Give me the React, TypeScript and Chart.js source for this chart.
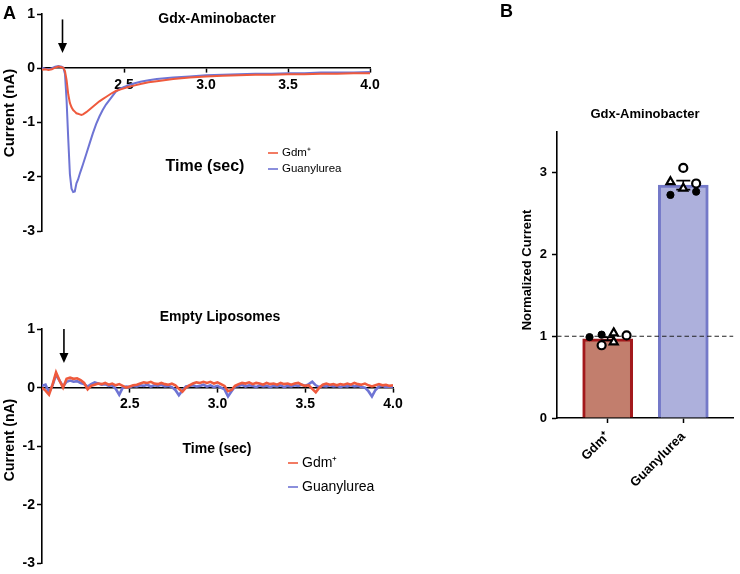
import React, { useEffect, useRef } from "react";
import { Chart, registerables } from "chart.js";

Chart.register(...registerables);

const FONT = "'Liberation Sans', Arial, Helvetica, sans-serif";
Chart.defaults.font.family = FONT;
Chart.defaults.color = "#000";

// ---------- Panel A, top: Gdx-Aminobacter ----------
const TIME_TOP = [
  2.0, 2.02, 2.04, 2.06, 2.08, 2.1, 2.12, 2.13, 2.14, 2.15,
  2.16, 2.17, 2.18, 2.19, 2.2, 2.21, 2.22, 2.23, 2.24, 2.25,
  2.27, 2.29, 2.31, 2.33, 2.35, 2.37, 2.39, 2.42, 2.45, 2.48,
  2.52, 2.56, 2.6, 2.65, 2.7, 2.8, 2.9, 3.0, 3.1, 3.2,
  3.3, 3.4, 3.5, 3.6, 3.7, 3.8, 3.9, 4.0,
];
const GDM_TOP = [
  -0.03, -0.02, -0.03, -0.02, 0.01, 0.03, 0.02, 0.01, -0.05, -0.22,
  -0.48, -0.64, -0.72, -0.77, -0.8, -0.83, -0.84, -0.85, -0.86, -0.85,
  -0.81, -0.76, -0.71, -0.66, -0.61, -0.57, -0.53, -0.47, -0.42, -0.39,
  -0.35, -0.32, -0.29, -0.26, -0.24, -0.2, -0.17, -0.15, -0.14, -0.13,
  -0.12, -0.12, -0.11, -0.11, -0.1, -0.1, -0.09, -0.09,
];
const GUAN_TOP = [
  0.01, -0.01, -0.02, 0.0, 0.03, 0.04, 0.03, 0.01, -0.1, -0.6,
  -1.3, -1.95, -2.22, -2.28, -2.27, -2.12, -2.05, -1.95, -1.86, -1.77,
  -1.58, -1.39, -1.2, -1.03, -0.89, -0.77, -0.67, -0.55, -0.43, -0.37,
  -0.32, -0.28, -0.25, -0.22, -0.2, -0.17, -0.15, -0.13, -0.12, -0.11,
  -0.1, -0.1, -0.09, -0.09, -0.08, -0.08, -0.08, -0.07,
];

// ---------- Panel A, bottom: Empty Liposomes ----------
const TIME_BOTTOM = [
  2.0, 2.02, 2.04, 2.06, 2.08, 2.1, 2.12, 2.14, 2.16, 2.18,
  2.2, 2.22, 2.24, 2.26, 2.28, 2.3, 2.32, 2.34, 2.36, 2.38,
  2.4, 2.42, 2.44, 2.46, 2.48, 2.5, 2.52, 2.54, 2.56, 2.58,
  2.6, 2.62, 2.64, 2.66, 2.68, 2.7, 2.72, 2.74, 2.76, 2.78,
  2.8, 2.82, 2.84, 2.86, 2.88, 2.9, 2.92, 2.94, 2.96, 2.98,
  3.0, 3.02, 3.04, 3.06, 3.08, 3.1, 3.12, 3.14, 3.16, 3.18,
  3.2, 3.22, 3.24, 3.26, 3.28, 3.3, 3.32, 3.34, 3.36, 3.38,
  3.4, 3.42, 3.44, 3.46, 3.48, 3.5, 3.52, 3.54, 3.56, 3.58,
  3.6, 3.62, 3.64, 3.66, 3.68, 3.7, 3.72, 3.74, 3.76, 3.78,
  3.8, 3.82, 3.84, 3.86, 3.88, 3.9, 3.92, 3.94, 3.96, 3.98,
  4.0,
];
const GDM_BOTTOM = [
  0.0, -0.05, -0.12, 0.05, 0.26, 0.12, 0.0, 0.15, 0.17, 0.15,
  0.16, 0.13, 0.08, -0.03, 0.03, 0.05, 0.07, 0.06, 0.08, 0.05,
  0.07, 0.04, 0.06, 0.03, 0.0, 0.02, 0.04, 0.05, 0.07, 0.09,
  0.08, 0.1, 0.07, 0.06, 0.08, 0.06, 0.05, 0.07, 0.04, -0.02,
  -0.07, 0.0, 0.04, 0.07, 0.09, 0.08, 0.1, 0.08, 0.1, 0.07,
  0.09, 0.06, 0.03, -0.06, -0.04, 0.03, 0.06, 0.08, 0.07, 0.09,
  0.06, 0.08, 0.07, 0.05, 0.08, 0.06, 0.07, 0.05, 0.08, 0.06,
  0.07, 0.05, 0.07, 0.08, 0.05, 0.03, 0.04, -0.02, -0.08, 0.0,
  0.05, 0.07, 0.05, 0.06, 0.04, 0.06, 0.05, 0.07, 0.05, 0.08,
  0.06, 0.05, 0.07, 0.04, 0.02, 0.04, 0.06, 0.04, 0.05, 0.03,
  0.04,
];
const GUAN_BOTTOM = [
  0.03, 0.05, -0.08, 0.04, 0.22, 0.12, 0.02, 0.1, 0.12, 0.1,
  0.11, 0.08, 0.06, 0.02, 0.06, 0.09, 0.07, 0.05, 0.06, 0.03,
  0.04, -0.02, -0.12, 0.0, 0.02, 0.01, 0.03, 0.02, 0.04, 0.03,
  0.05, 0.02, 0.04, 0.03, 0.05, 0.02, 0.03, 0.01, -0.04, -0.13,
  -0.05, 0.02, 0.03, 0.04, 0.02, 0.03, 0.05, 0.02, 0.04, 0.01,
  0.03, 0.0, -0.03, -0.15, -0.06, 0.02, 0.03, 0.05, 0.02, 0.04,
  0.03, 0.01, 0.04, 0.02, 0.03, 0.01, 0.03, 0.02, 0.04, 0.01,
  0.03, 0.02, 0.04, 0.03, 0.05, 0.03, 0.06, 0.1, 0.04, 0.01,
  0.03, 0.02, 0.04, 0.02, 0.03, 0.01, 0.03, 0.02, 0.04, 0.02,
  0.03, 0.01, 0.0, -0.06, -0.15, -0.04, 0.02, 0.03, 0.01, 0.02,
  0.01,
];

const TIME_TICKS = [2.5, 3.0, 3.5, 4.0];
const CURRENT_TICKS = [-3, -2, -1, 0, 1];
const SERIES_LABELS = ["Gdm\u207A", "Guanylurea"];
const ARROW_TIME = 2.125;

// ---------- Panel B ----------
const CATEGORIES = ["Gdm\u207A", "Guanylurea"];
const BAR_MEANS = [0.97, 2.85];
const BAR_SEM = [0.02, 0.055];
const GDM_REPLICATES = [0.99, 1.02, 0.89, 1.01, 1.04, 0.93];
const GUAN_REPLICATES = [2.73, 2.77, 3.06, 2.87, 2.89, 2.81];
const REPLICATE_MARKERS = ["filled", "filled", "hollow", "hollow", "triangle", "triangle"];
const NORMALIZED_TICKS = [0, 1, 2, 3];
const REFERENCE_LEVEL = 1;

// layout-only constants (jitter of replicate dots, in category units)
const GDM_JITTER = [-0.24, -0.08, -0.08, 0.25, 0.08, 0.08];
const GUAN_JITTER = [-0.17, 0.17, 0, 0.17, -0.17, 0];

const RED = "#ef5a3d";
const BLUE = "#6e74d4";

function font(size: number, bold = true) {
  return `${bold ? "bold " : ""}${size}px ${FONT}`;
}

function text(
  ctx: CanvasRenderingContext2D,
  s: string,
  x: number,
  y: number,
  size: number,
  bold = true,
  align: CanvasTextAlign = "center",
  rotate = false
) {
  ctx.save();
  ctx.font = font(size, bold);
  ctx.fillStyle = "#000";
  ctx.textAlign = align;
  ctx.textBaseline = "middle";
  ctx.translate(x, y);
  if (rotate) ctx.rotate(-Math.PI / 2);
  ctx.fillText(s, 0, 0);
  ctx.restore();
}

function drawArrow(chart: any, time: number, fromV: number, toV: number) {
  const ctx = chart.ctx as CanvasRenderingContext2D;
  const x = chart.scales.x.getPixelForValue(time);
  const y1 = chart.scales.y.getPixelForValue(fromV);
  const y2 = chart.scales.y.getPixelForValue(toV);
  ctx.save();
  ctx.strokeStyle = "#000";
  ctx.fillStyle = "#000";
  ctx.lineWidth = 1.6;
  ctx.beginPath();
  ctx.moveTo(x, y1);
  ctx.lineTo(x, y2 - 8);
  ctx.stroke();
  ctx.beginPath();
  ctx.moveTo(x - 4.5, y2 - 10);
  ctx.lineTo(x + 4.5, y2 - 10);
  ctx.lineTo(x, y2);
  ctx.closePath();
  ctx.fill();
  ctx.restore();
}

function drawLegend(chart: any, x: number, y0: number, dy: number, size: number) {
  const ctx = chart.ctx as CanvasRenderingContext2D;
  chart.data.datasets.forEach((ds: any, i: number) => {
    const y = y0 + i * dy;
    ctx.save();
    ctx.strokeStyle = ds.borderColor;
    ctx.lineWidth = 1.6;
    ctx.beginPath();
    ctx.moveTo(x, y);
    ctx.lineTo(x + 10, y);
    ctx.stroke();
    ctx.restore();
    text(ctx, ds.label, x + 14, y, size, false, "left");
  });
}

type TraceLayout = {
  pad: { top: number; right: number; bottom: number };
  lineWidth: number;
  overlay: (chart: any) => void;
};

function traceConfig(time: number[], gdm: number[], guan: number[], lay: TraceLayout): any {
  const axisFont = { family: FONT, size: 14, weight: "bold" as const };
  const grid = {
    display: true,
    drawOnChartArea: false,
    drawTicks: true,
    tickLength: 4,
    color: "#000",
    tickWidth: 1.5,
  };
  const border = { display: true, color: "#000", width: 1.6 };
  return {
    type: "line",
    data: {
      datasets: [
        {
          label: SERIES_LABELS[0],
          data: time.map((t, i) => ({ x: t, y: gdm[i] })),
          borderColor: RED,
          borderWidth: lay.lineWidth,
          pointRadius: 0,
          tension: 0,
          fill: false,
        },
        {
          label: SERIES_LABELS[1],
          data: time.map((t, i) => ({ x: t, y: guan[i] })),
          borderColor: BLUE,
          borderWidth: lay.lineWidth,
          pointRadius: 0,
          tension: 0,
          fill: false,
        },
      ],
    },
    options: {
      responsive: false,
      animation: false,
      layout: { padding: { left: 0, top: lay.pad.top, right: lay.pad.right, bottom: lay.pad.bottom } },
      plugins: { legend: { display: false }, tooltip: { enabled: false }, title: { display: false } },
      scales: {
        x: {
          type: "linear",
          min: 2,
          max: 4,
          position: { y: 0 },
          afterBuildTicks: (s: any) => {
            s.ticks = TIME_TICKS.map((v) => ({ value: v }));
          },
          ticks: {
            font: axisFont,
            color: "#000",
            padding: 4,
            maxRotation: 0,
            autoSkip: false,
            callback: (v: any) => Number(v).toFixed(1),
          },
          grid,
          border,
        },
        y: {
          type: "linear",
          min: -3,
          max: 1,
          position: "left",
          afterFit: (s: any) => {
            s.width = 42;
          },
          afterBuildTicks: (s: any) => {
            s.ticks = CURRENT_TICKS.map((v) => ({ value: v }));
          },
          ticks: {
            font: axisFont,
            color: "#000",
            padding: 2,
            callback: (v: any) => String(v),
          },
          grid: { ...grid, tickLength: 5 },
          border,
        },
      },
    },
    plugins: [{ id: "overlay", afterDraw: (chart: any) => lay.overlay(chart) }],
  };
}

function barConfig(): any {
  const pts = (style: string) => {
    const out: { x: number; y: number }[] = [];
    REPLICATE_MARKERS.forEach((m, i) => {
      if (m === style) {
        out.push({ x: 0 + GDM_JITTER[i], y: GDM_REPLICATES[i] });
        out.push({ x: 1 + GUAN_JITTER[i], y: GUAN_REPLICATES[i] });
      }
    });
    return out;
  };
  const axisFont = { family: FONT, size: 13, weight: "bold" as const };
  const grid = {
    display: true,
    drawOnChartArea: false,
    drawTicks: true,
    tickLength: 5,
    color: "#000",
    tickWidth: 1.5,
    offset: false,
  };
  const border = { display: true, color: "#000", width: 1.6 };
  return {
    type: "bar",
    data: {
      datasets: [
        {
          type: "bar",
          label: "Mean",
          data: BAR_MEANS.map((v, i) => ({ x: i, y: v })),
          backgroundColor: ["#c27e6d", "#adb0dc"],
          borderColor: ["#a3191c", "#7479c8"],
          borderWidth: 3,
          barThickness: 50,
          order: 10,
        },
        {
          type: "scatter",
          label: "filled",
          data: pts("filled"),
          pointStyle: "circle",
          pointRadius: 3.6,
          backgroundColor: "#000",
          borderColor: "#000",
          borderWidth: 1,
          order: 1,
        },
        {
          type: "scatter",
          label: "hollow",
          data: pts("hollow"),
          pointStyle: "circle",
          pointRadius: 4,
          backgroundColor: "#fff",
          borderColor: "#000",
          borderWidth: 2.2,
          order: 1,
        },
        {
          type: "scatter",
          label: "triangle",
          data: pts("triangle"),
          pointStyle: "triangle",
          pointRadius: 4.6,
          backgroundColor: "#fff",
          borderColor: "#000",
          borderWidth: 2.2,
          order: 1,
        },
      ],
    },
    options: {
      responsive: false,
      animation: false,
      layout: { padding: { left: 0, top: 132, right: 2, bottom: 56 } },
      plugins: { legend: { display: false }, tooltip: { enabled: false }, title: { display: false } },
      scales: {
        x: {
          type: "linear",
          min: -0.67,
          max: 1.66,
          offset: false,
          position: "bottom",
          afterFit: (s: any) => {
            s.height = 100;
          },
          afterBuildTicks: (s: any) => {
            s.ticks = CATEGORIES.map((_, i) => ({ value: i }));
          },
          ticks: {
            font: axisFont,
            color: "#000",
            padding: 6,
            minRotation: 45,
            maxRotation: 45,
            autoSkip: false,
            callback: (v: any) => CATEGORIES[Math.round(Number(v))] ?? "",
          },
          grid,
          border,
        },
        y: {
          type: "linear",
          min: 0,
          max: 3.5,
          position: "left",
          afterFit: (s: any) => {
            s.width = 77;
          },
          afterBuildTicks: (s: any) => {
            s.ticks = NORMALIZED_TICKS.map((v) => ({ value: v }));
          },
          ticks: { font: axisFont, color: "#000", padding: 5, callback: (v: any) => String(v) },
          grid,
          border,
        },
      },
    },
    plugins: [
      {
        id: "barExtras",
        afterDatasetDraw: (chart: any, args: any) => {
          if (args.index !== 0) return;
          const ctx = chart.ctx as CanvasRenderingContext2D;
          const xs = chart.scales.x;
          const ys = chart.scales.y;
          const area = chart.chartArea;
          const yr = ys.getPixelForValue(REFERENCE_LEVEL);
          ctx.save();
          ctx.strokeStyle = "#222";
          ctx.lineWidth = 1.1;
          ctx.setLineDash([4.5, 3]);
          ctx.beginPath();
          ctx.moveTo(area.left, yr);
          ctx.lineTo(area.right, yr);
          ctx.stroke();
          ctx.restore();
          ctx.save();
          ctx.strokeStyle = "#000";
          ctx.lineWidth = 1.6;
          BAR_MEANS.forEach((m, i) => {
            const x = xs.getPixelForValue(i);
            const yTop = ys.getPixelForValue(m + BAR_SEM[i]);
            const yBot = ys.getPixelForValue(m - BAR_SEM[i]);
            ctx.beginPath();
            ctx.moveTo(x, yTop);
            ctx.lineTo(x, yBot);
            ctx.moveTo(x - 7, yTop);
            ctx.lineTo(x + 7, yTop);
            ctx.moveTo(x - 7, yBot);
            ctx.lineTo(x + 7, yBot);
            ctx.stroke();
          });
          ctx.restore();
        },
        afterDraw: (chart: any) => {
          const ctx = chart.ctx as CanvasRenderingContext2D;
          text(ctx, "B", 20, 12, 18, true, "left");
          text(ctx, "Gdx-Aminobacter", 165, 114, 13);
          text(ctx, "Normalized Current", 47, 270, 13, true, "center", true);
        },
      },
    ],
  };
}

function ChartBox({ left, top, width, height, make }: { left: number; top: number; width: number; height: number; make: () => any }) {
  const ref = useRef<HTMLCanvasElement | null>(null);
  useEffect(() => {
    if (!ref.current) return;
    const chart = new Chart(ref.current, make());
    return () => chart.destroy();
  }, []);
  return (
    <div style={{ position: "absolute", left, top, width, height }}>
      <canvas ref={ref} width={width} height={height} style={{ width, height, display: "block" }} />
    </div>
  );
}

export default function App() {
  const topLayout: TraceLayout = {
    pad: { top: 14, right: 30, bottom: 59 },
    lineWidth: 2,
    overlay: (chart: any) => {
      const ctx = chart.ctx as CanvasRenderingContext2D;
      text(ctx, "A", 3, 14, 18, true, "left");
      text(ctx, "Gdx-Aminobacter", 217, 19, 14);
      text(ctx, "Time (sec)", 205, 167, 16);
      text(ctx, "Current (nA)", 10, 113, 15, true, "center", true);
      drawLegend(chart, 268, 153, 16, 11.5);
      drawArrow(chart, ARROW_TIME, 0.9, 0.28);
    },
  };
  const bottomLayout: TraceLayout = {
    pad: { top: 39, right: 27, bottom: 9 },
    lineWidth: 2.6,
    overlay: (chart: any) => {
      const ctx = chart.ctx as CanvasRenderingContext2D;
      text(ctx, "Empty Liposomes", 220, 27, 14);
      text(ctx, "Time (sec)", 217, 159, 14);
      text(ctx, "Current (nA)", 10, 150, 14, true, "center", true);
      drawLegend(chart, 288, 173, 24, 14);
      drawArrow(chart, ARROW_TIME, 1.0, 0.42);
    },
  };
  return (
    <div style={{ position: "fixed", left: 0, top: 0, width: 740, height: 574, background: "#fff", overflow: "hidden" }}>
      <ChartBox left={0} top={0} width={400} height={290} make={() => traceConfig(TIME_TOP, GDM_TOP, GUAN_TOP, topLayout)} />
      <ChartBox left={0} top={290} width={420} height={284} make={() => traceConfig(TIME_BOTTOM, GDM_BOTTOM, GUAN_BOTTOM, bottomLayout)} />
      <ChartBox left={480} top={0} width={260} height={574} make={barConfig} />
    </div>
  );
}
